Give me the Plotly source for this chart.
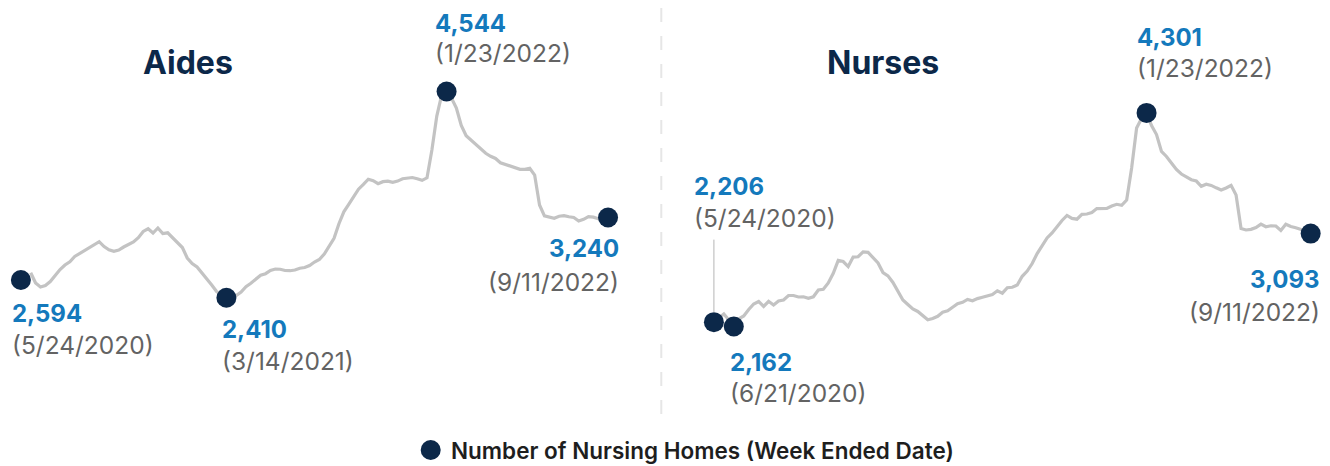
import pandas as pd
import plotly.graph_objects as go

# ---------------- data ----------------
aides_line_start = "2020-06-07"
aides_line = [
    2669, 2563, 2521, 2537, 2578, 2646, 2702, 2749, 2783, 2837,
    2868, 2899, 2935, 2963, 2990, 2940, 2907, 2891, 2904, 2935,
    2960, 2987, 3031, 3096, 3124, 3080, 3132, 3075, 3082, 3034,
    2987, 2930, 2821, 2765, 2728, 2668, 2604, 2542, 2475, 2439,
    2410, 2418, 2434, 2470, 2525, 2561, 2604, 2643, 2659, 2692,
    2707, 2705, 2692, 2690, 2697, 2716, 2723, 2744, 2780, 2806,
    2863, 2938, 3025, 3176, 3299, 3376, 3452, 3533, 3583, 3636,
    3621, 3590, 3611, 3617, 3604, 3617, 3641, 3651, 3654, 3641,
    3625, 3651, 3939, 4290, 4508, 4544, 4477, 4373, 4192, 4086,
    4040, 3997, 3946, 3905, 3874, 3851, 3807, 3789, 3775, 3756,
    3739, 3739, 3750, 3680, 3370, 3258, 3243, 3233, 3253, 3260,
    3248, 3240, 3204, 3221, 3249, 3244, 3228, 3227, 3240,
]

nurses_line_start = "2020-05-31"
nurses_line = [
    2248, 2288, 2228, 2208, 2238, 2268, 2333, 2388, 2413, 2363,
    2415, 2378, 2418, 2428, 2473, 2473, 2458, 2460, 2445, 2460,
    2528, 2535, 2598, 2695, 2825, 2813, 2763, 2858, 2861, 2910,
    2905, 2848, 2798, 2703, 2670, 2603, 2508, 2428, 2383, 2338,
    2313, 2273, 2230, 2243, 2265, 2306, 2320, 2355, 2390, 2405,
    2433, 2420, 2442, 2455, 2468, 2483, 2520, 2496, 2551, 2555,
    2578, 2665, 2718, 2793, 2893, 2972, 3049, 3099, 3166, 3224,
    3274, 3245, 3237, 3286, 3289, 3303, 3343, 3343, 3344, 3369,
    3386, 3376, 3429, 3750, 4150, 4245, 4301, 4175, 4085, 3915,
    3865, 3800, 3735, 3689, 3657, 3632, 3619, 3566, 3587, 3575,
    3551, 3529, 3549, 3576, 3479, 3144, 3129, 3135, 3153, 3188,
    3161, 3171, 3169, 3124, 3187, 3164, 3152, 3138, 3119, 3093,
]

aides_dates = ["2020-05-24", "2021-03-14", "2022-01-23", "2022-09-11"]
aides_values = [2594, 2410, 4544, 3240]
aides_date_labels = ["(5/24/2020)", "(3/14/2021)", "(1/23/2022)", "(9/11/2022)"]

nurses_dates = ["2020-05-24", "2020-06-21", "2022-01-23", "2022-09-11"]
nurses_values = [2206, 2162, 4301, 3093]
nurses_date_labels = ["(5/24/2020)", "(6/21/2020)", "(1/23/2022)", "(9/11/2022)"]

panel_titles = ["Aides", "Nurses"]
legend_label = "Number of Nursing Homes (Week Ended Date)"

# ---------------- style ----------------
NAVY = "#0c2849"
BLUE = "#1479bc"
GRAY_TXT = "#636363"
LINE = "#c3c3c3"
FONT = "Inter"

# the page body adds an 8px offset, so the figure is drawn 8px smaller
OFF = 8
W, H = 1330 - OFF, 466 - OFF
PLOT_H = 400          # plot area: page rows 8..408


def px(xp):
    """page x pixel -> paper x"""
    return (xp - OFF) / W


def py(yp):
    """page y pixel -> paper y"""
    return (OFF + PLOT_H - yp) / PLOT_H


aides_x = pd.date_range(aides_line_start, periods=len(aides_line), freq="7D")
nurses_x = pd.date_range(nurses_line_start, periods=len(nurses_line), freq="7D")

fig = go.Figure()
fig.add_trace(go.Scatter(x=aides_x, y=aides_line, mode="lines",
                         line=dict(color=LINE, width=3.2), xaxis="x", yaxis="y",
                         showlegend=False, hoverinfo="skip"))
fig.add_trace(go.Scatter(x=pd.to_datetime(aides_dates), y=aides_values, mode="markers",
                         marker=dict(color=NAVY, size=20), xaxis="x", yaxis="y",
                         showlegend=False))
fig.add_trace(go.Scatter(x=nurses_x, y=nurses_line, mode="lines",
                         line=dict(color=LINE, width=3.2), xaxis="x2", yaxis="y2",
                         showlegend=False, hoverinfo="skip"))
fig.add_trace(go.Scatter(x=pd.to_datetime(nurses_dates), y=nurses_values, mode="markers",
                         marker=dict(color=NAVY, size=20), xaxis="x2", yaxis="y2",
                         showlegend=False))

t0 = pd.Timestamp(aides_dates[0])
aides_xrange = [str(t0 - pd.Timedelta(hours=443)), str(t0 + pd.Timedelta(hours=22253))]
nurses_xrange = [str(t0 - pd.Timedelta(hours=1517)), str(t0 + pd.Timedelta(hours=20813))]

annotations = []


def value_label(xref, yref, x, y, value, date_text, xanchor, dx, dy_num, dy_date):
    annotations.append(dict(
        xref=xref, yref=yref, x=x, y=y, text=f"{value:,}", showarrow=False,
        xanchor=xanchor, yanchor="middle", xshift=dx, yshift=dy_num,
        font=dict(family=FONT, size=24, color=BLUE, weight="bold")))
    annotations.append(dict(
        xref=xref, yref=yref, x=x, y=y, text=date_text, showarrow=False,
        xanchor=xanchor, yanchor="middle", xshift=dx, yshift=dy_date,
        font=dict(family=FONT, size=24.5, color=GRAY_TXT)))


# Aides labels
aides_offsets = [("left", -11, -34, -65), ("left", -6, -32, -63),
                 ("left", -14, 68, 38), ("right", 13, -31, -64)]
for d, v, t, (xa, dx, dn, dd) in zip(aides_dates, aides_values, aides_date_labels, aides_offsets):
    value_label("x", "y", d, v, v, t, xa, dx, dn, dd)

# Nurses labels
nurses_offsets = [("left", -22, 136, 104), ("left", -6, -36, -66),
                  ("left", -12, 75, 45), ("right", 11, -46, -78)]
for d, v, t, (xa, dx, dn, dd) in zip(nurses_dates, nurses_values, nurses_date_labels, nurses_offsets):
    value_label("x2", "y2", d, v, v, t, xa, dx, dn, dd)

# leader line for the first nurses point
annotations.append(dict(xref="x2", yref="y2", x=nurses_dates[0], y=nurses_values[0],
                        text="", showarrow=True, arrowhead=0, arrowwidth=1,
                        arrowcolor="#b5b5b5", ax=0, ay=-84, standoff=10))

# Panel titles
annotations.append(dict(xref="paper", yref="paper", x=px(187.5), y=py(63),
                        text=panel_titles[0], showarrow=False, xanchor="center", yanchor="middle",
                        font=dict(family=FONT, size=32, color=NAVY, weight="bold")))
annotations.append(dict(xref="paper", yref="paper", x=px(883), y=py(63),
                        text=panel_titles[1], showarrow=False, xanchor="center", yanchor="middle",
                        font=dict(family=FONT, size=32, color=NAVY, weight="bold")))

# Legend text
annotations.append(dict(xref="paper", yref="paper", x=px(449), y=py(450),
                        text=legend_label, showarrow=False, xanchor="left", yanchor="middle",
                        font=dict(family=FONT, size=22.5, color="#1e1e1e", weight=600)))

shapes = [
    # divider
    dict(type="line", xref="paper", yref="paper", x0=px(661.3), x1=px(661.3),
         y0=py(OFF), y1=py(426), line=dict(color="#e6e6e6", width=2, dash="14px,14px")),
    # legend dot
    dict(type="circle", xref="paper", yref="paper", xsizemode="pixel", ysizemode="pixel",
         xanchor=px(430.7), yanchor=py(450), x0=-10, x1=10, y0=-10, y1=10,
         fillcolor=NAVY, line=dict(width=0)),
]

fig.update_layout(
    width=W, height=H,
    margin=dict(l=0, r=0, t=0, b=H - PLOT_H, pad=0, autoexpand=False),
    paper_bgcolor="white", plot_bgcolor="white",
    xaxis=dict(domain=[0, px(669)], range=aides_xrange, visible=False),
    yaxis=dict(domain=[0, 1], range=[1269.7, 5407.7], visible=False),
    xaxis2=dict(domain=[px(669), 1], range=nurses_xrange, visible=False),
    yaxis2=dict(domain=[0, 1], range=[1346.4, 5351.6], visible=False, anchor="x2"),
    annotations=annotations,
    shapes=shapes,
    showlegend=False,
    hovermode="closest",
)

fig.write_html("out.html")
